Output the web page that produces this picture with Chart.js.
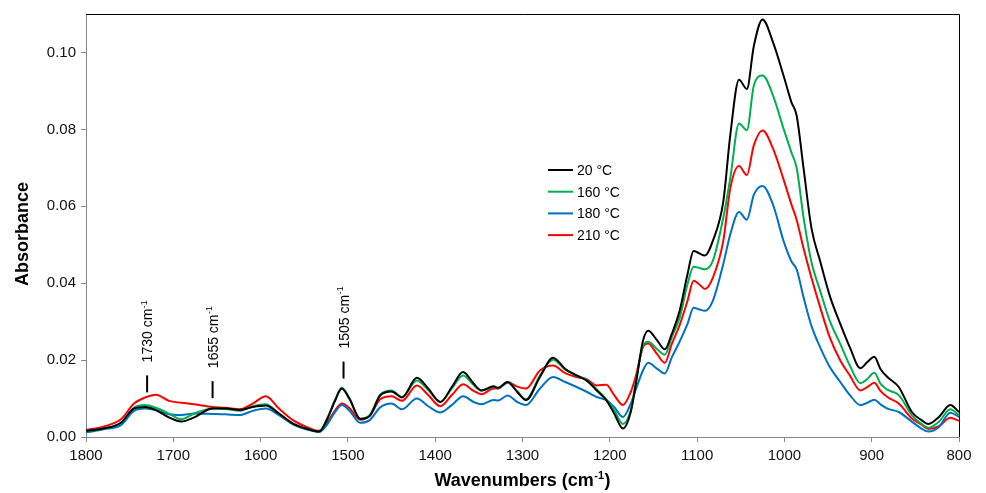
<!DOCTYPE html>
<html>
<head>
<meta charset="utf-8">
<title>FTIR spectra</title>
<script src="https://cdn.jsdelivr.net/npm/chart.js@4.4.1/dist/chart.umd.min.js"></script>
<style>
  body { margin: 0; background: #fff; }
  #wrap { width: 986px; height: 493px; }
</style>
</head>
<body>
<div id="wrap"><canvas id="spectra" width="986" height="493"></canvas></div>
<script>
// wavenumber grid (cm-1) shared by all four spectra
const wavenumbers = [1800, 1780, 1760, 1745, 1732, 1720, 1705, 1691, 1676, 1655, 1640, 1624, 1609, 1594, 1579, 1563, 1548, 1533, 1523, 1515,
  1507, 1498, 1486, 1475, 1463, 1450, 1438, 1421, 1408, 1394, 1381, 1368, 1356, 1347, 1333, 1328, 1317, 1306, 1296, 1280,
  1265, 1251, 1238, 1226, 1215, 1204, 1195, 1185, 1176, 1170, 1162, 1156, 1146, 1137, 1129, 1120, 1111, 1104, 1098, 1091,
  1082, 1070, 1062, 1052, 1043, 1035, 1025, 1013, 1001, 992, 986, 978, 969, 959, 948, 936, 925, 913, 905, 897,
  890, 882, 869, 854, 843, 835, 823, 810, 800];

const abs20 = [0.0016, 0.0022, 0.0037, 0.0074, 0.0078, 0.0070, 0.0051, 0.0040, 0.0051, 0.0074, 0.0074, 0.0070, 0.0078, 0.0082, 0.0061, 0.0035, 0.0022, 0.0014, 0.0050, 0.0093,
  0.0126, 0.0098, 0.0047, 0.0055, 0.0108, 0.0118, 0.0103, 0.0154, 0.0126, 0.0091, 0.0130, 0.0169, 0.0139, 0.0121, 0.0132, 0.0128, 0.0143, 0.0117, 0.0096, 0.0156,
  0.0206, 0.0177, 0.0160, 0.0146, 0.0121, 0.0096, 0.0061, 0.0022, 0.0065, 0.0140, 0.0250, 0.0276, 0.0252, 0.0228, 0.0268, 0.0328, 0.0423, 0.0484, 0.0478, 0.0472,
  0.0510, 0.0612, 0.0785, 0.0929, 0.0905, 0.1017, 0.1086, 0.1026, 0.0940, 0.0871, 0.0836, 0.0698, 0.0543, 0.0457, 0.0367, 0.0294, 0.0233, 0.0179, 0.0195, 0.0209,
  0.0177, 0.0156, 0.0130, 0.0065, 0.0044, 0.0034, 0.0052, 0.0083, 0.0065];

const abs160 = [0.0016, 0.0022, 0.0037, 0.0076, 0.0083, 0.0076, 0.0061, 0.0046, 0.0061, 0.0074, 0.0073, 0.0068, 0.0080, 0.0085, 0.0061, 0.0035, 0.0022, 0.0014, 0.0052, 0.0095,
  0.0128, 0.0100, 0.0048, 0.0057, 0.0110, 0.0121, 0.0104, 0.0147, 0.0122, 0.0091, 0.0126, 0.0160, 0.0135, 0.0121, 0.0130, 0.0127, 0.0141, 0.0119, 0.0098, 0.0160,
  0.0201, 0.0175, 0.0160, 0.0148, 0.0124, 0.0098, 0.0070, 0.0034, 0.0070, 0.0145, 0.0237, 0.0248, 0.0229, 0.0214, 0.0260, 0.0310, 0.0397, 0.0443, 0.0440, 0.0436,
  0.0458, 0.0570, 0.0673, 0.0815, 0.0798, 0.0914, 0.0940, 0.0888, 0.0802, 0.0740, 0.0700, 0.0570, 0.0455, 0.0380, 0.0302, 0.0242, 0.0186, 0.0140, 0.0151, 0.0167,
  0.0139, 0.0123, 0.0109, 0.0057, 0.0034, 0.0024, 0.0040, 0.0072, 0.0057];

const abs180 = [0.0012, 0.0020, 0.0031, 0.0068, 0.0074, 0.0070, 0.0059, 0.0057, 0.0061, 0.0060, 0.0059, 0.0057, 0.0068, 0.0074, 0.0057, 0.0033, 0.0020, 0.0013, 0.0035, 0.0064,
  0.0083, 0.0068, 0.0037, 0.0044, 0.0077, 0.0087, 0.0072, 0.0100, 0.0080, 0.0064, 0.0083, 0.0106, 0.0091, 0.0085, 0.0096, 0.0095, 0.0108, 0.0091, 0.0083, 0.0126,
  0.0156, 0.0143, 0.0130, 0.0117, 0.0104, 0.0096, 0.0078, 0.0052, 0.0087, 0.0125, 0.0173, 0.0193, 0.0178, 0.0165, 0.0207, 0.0248, 0.0294, 0.0336, 0.0332, 0.0328,
  0.0354, 0.0450, 0.0527, 0.0585, 0.0565, 0.0630, 0.0653, 0.0604, 0.0510, 0.0457, 0.0436, 0.0363, 0.0289, 0.0233, 0.0182, 0.0143, 0.0109, 0.0083, 0.0089, 0.0097,
  0.0085, 0.0074, 0.0065, 0.0040, 0.0022, 0.0014, 0.0026, 0.0063, 0.0052];

const abs210 = [0.0018, 0.0027, 0.0046, 0.0087, 0.0103, 0.0110, 0.0094, 0.0089, 0.0085, 0.0078, 0.0076, 0.0072, 0.0087, 0.0106, 0.0074, 0.0044, 0.0027, 0.0016, 0.0040, 0.0068,
  0.0087, 0.0075, 0.0045, 0.0055, 0.0098, 0.0106, 0.0094, 0.0134, 0.0109, 0.0080, 0.0109, 0.0137, 0.0120, 0.0111, 0.0126, 0.0126, 0.0143, 0.0131, 0.0126, 0.0173,
  0.0186, 0.0166, 0.0156, 0.0150, 0.0134, 0.0136, 0.0109, 0.0083, 0.0117, 0.0160, 0.0233, 0.0243, 0.0216, 0.0193, 0.0242, 0.0291, 0.0354, 0.0406, 0.0398, 0.0385,
  0.0414, 0.0510, 0.0647, 0.0705, 0.0681, 0.0759, 0.0797, 0.0750, 0.0670, 0.0605, 0.0565, 0.0490, 0.0414, 0.0337, 0.0259, 0.0199, 0.0160, 0.0121, 0.0130, 0.0141,
  0.0120, 0.0104, 0.0087, 0.0048, 0.0032, 0.0021, 0.0028, 0.0050, 0.0042];

const seriesLabels = ['20 °C', '160 °C', '180 °C', '210 °C'];
const seriesColors = ['#000000', '#00b050', '#0070c0', '#ff0000'];

// marked bands and the absorbance where each marker line starts
const bandWaves = [1730, 1655, 1505];
const bandLevels = [0.0116, 0.0101, 0.0152];

const xTicks = [1800, 1700, 1600, 1500, 1400, 1300, 1200, 1100, 1000, 900, 800];
const yTicks = [0, 0.02, 0.04, 0.06, 0.08, 0.10];

const FONT = 'Arial, "Liberation Sans", sans-serif';
Chart.defaults.font.family = FONT;

function toPoints(ys) {
  return wavenumbers.map((w, i) => ({ x: w, y: ys[i] }));
}

// text followed by a raised "-1" style exponent
function supWidth(ctx, main, sup, tail, size, weight) {
  ctx.font = `${weight} ${size}px ${FONT}`;
  let w = ctx.measureText(main).width + ctx.measureText(tail).width;
  ctx.font = `${weight} ${Math.round(size * 0.62)}px ${FONT}`;
  return w + ctx.measureText(sup).width + 1;
}
function drawSup(ctx, x, y, main, sup, tail, size, weight) {
  ctx.font = `${weight} ${size}px ${FONT}`;
  ctx.fillText(main, x, y);
  x += ctx.measureText(main).width + 0.5;
  ctx.font = `${weight} ${Math.round(size * 0.62)}px ${FONT}`;
  ctx.fillText(sup, x, y - size * 0.4);
  x += ctx.measureText(sup).width + 0.5;
  ctx.font = `${weight} ${size}px ${FONT}`;
  ctx.fillText(tail, x, y);
}

const decorations = {
  id: 'decorations',
  afterDatasetsDraw(chart) {
    const { ctx, chartArea: a, scales: { x, y } } = chart;
    ctx.save();
    ctx.fillStyle = '#000';

    // band markers with rotated labels
    bandWaves.forEach((w, i) => {
      const px = x.getPixelForValue(w);
      const py = y.getPixelForValue(bandLevels[i]);
      ctx.strokeStyle = '#000';
      ctx.lineWidth = 2;
      ctx.beginPath();
      ctx.moveTo(px, py);
      ctx.lineTo(px, py - 17);
      ctx.stroke();
      ctx.save();
      ctx.translate(px, py - 30);
      ctx.rotate(-Math.PI / 2);
      ctx.textAlign = 'left';
      ctx.textBaseline = 'alphabetic';
      drawSup(ctx, 0, 5, String(w) + ' cm', '-1', '', 14, 'normal');
      ctx.restore();
    });

    // legend inside the plot
    chart.data.datasets.forEach((ds, i) => {
      const ly = 170 + i * 21.7;
      ctx.strokeStyle = ds.borderColor;
      ctx.lineWidth = 2;
      ctx.beginPath();
      ctx.moveTo(548, ly);
      ctx.lineTo(573, ly);
      ctx.stroke();
      ctx.font = `14px ${FONT}`;
      ctx.textAlign = 'left';
      ctx.textBaseline = 'middle';
      ctx.fillText(ds.label, 577, ly + 1);
    });

    // closing frame on top and right
    ctx.strokeStyle = '#000';
    ctx.lineWidth = 1;
    ctx.beginPath();
    ctx.moveTo(a.left, a.top + 0.5);
    ctx.lineTo(a.right + 0.5, a.top + 0.5);
    ctx.lineTo(a.right + 0.5, a.bottom);
    ctx.stroke();

    // axis titles
    ctx.textAlign = 'left';
    ctx.textBaseline = 'alphabetic';
    const tw = supWidth(ctx, 'Wavenumbers (cm', '-1', ')', 18, 'bold');
    drawSup(ctx, (a.left + a.right) / 2 - tw / 2, 486, 'Wavenumbers (cm', '-1', ')', 18, 'bold');

    ctx.save();
    ctx.translate(23, 234);
    ctx.rotate(-Math.PI / 2);
    ctx.textAlign = 'center';
    ctx.textBaseline = 'middle';
    ctx.font = `bold 18px ${FONT}`;
    ctx.fillText('Absorbance', 0, 0);
    ctx.restore();

    ctx.restore();
  }
};

new Chart(document.getElementById('spectra'), {
  type: 'line',
  data: {
    datasets: [abs20, abs160, abs180, abs210].map((ys, i) => ({
      label: seriesLabels[i],
      data: toPoints(ys),
      borderColor: seriesColors[i],
      backgroundColor: seriesColors[i],
      borderWidth: 2,
      pointRadius: 0,
      cubicInterpolationMode: 'monotone',
      fill: false
    }))
  },
  options: {
    responsive: false,
    devicePixelRatio: 1,
    animation: false,
    layout: { padding: { left: 0, right: 27, top: 11, bottom: 0 } },
    plugins: {
      legend: { display: false },
      tooltip: { enabled: false }
    },
    scales: {
      x: {
        type: 'linear',
        reverse: true,
        min: 800,
        max: 1800,
        afterBuildTicks: (s) => { s.ticks = xTicks.map(v => ({ value: v })); },
        afterFit: (s) => { s.height = 56; },
        ticks: { color: '#111', font: { size: 15 }, padding: 5, maxRotation: 0, callback: (v) => String(v) },
        grid: { drawOnChartArea: false, drawTicks: true, tickLength: 5, color: '#868686' },
        border: { color: '#868686', width: 1 }
      },
      y: {
        min: 0,
        max: 0.11,
        afterBuildTicks: (s) => { s.ticks = yTicks.map(v => ({ value: v })); },
        afterFit: (s) => { s.width = 86; },
        ticks: { color: '#111', font: { size: 15 }, padding: 5, callback: (v) => v.toFixed(2) },
        grid: { drawOnChartArea: false, drawTicks: true, tickLength: 5, color: '#868686' },
        border: { color: '#868686', width: 1 }
      }
    }
  },
  plugins: [decorations]
});
</script>
</body>
</html>
